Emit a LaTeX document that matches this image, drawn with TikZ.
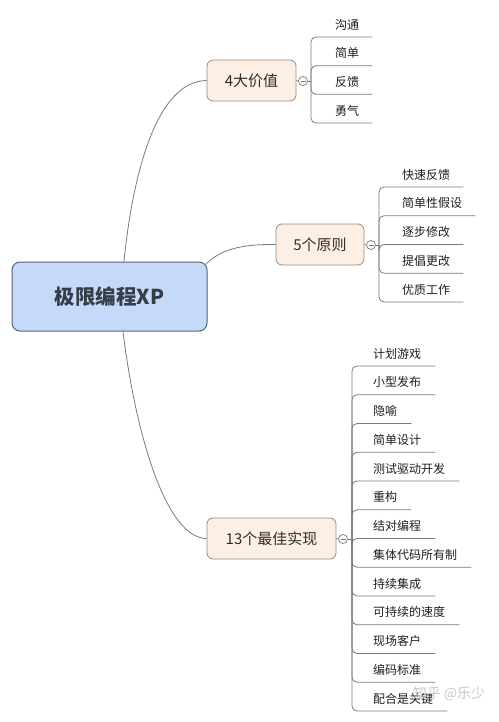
\documentclass[tikz,border=0pt]{standalone}
\usepackage{fontspec}
\newfontfamily\cjk{Noto Sans CJK SC}
\definecolor{rootfill}{RGB}{197,217,249}
\definecolor{rootborder}{RGB}{85,99,125}
\definecolor{roottext}{RGB}{55,61,72}
\definecolor{topicfill}{RGB}{253,239,228}
\definecolor{topicborder}{RGB}{150,140,132}
\definecolor{topictext}{RGB}{45,45,45}
\definecolor{linecol}{RGB}{122,122,122}
\definecolor{leaftext}{RGB}{30,30,30}
\definecolor{wmcol}{RGB}{200,200,200}
\tikzset{
  rootbox/.style={draw=rootborder, fill=rootfill, rounded corners=8pt, line width=1pt,
    minimum width=195pt, minimum height=69pt, inner sep=0pt,
    font=\cjk\bfseries\fontsize{20.5}{24}\selectfont, text=roottext},
  topicbox/.style={draw=topicborder, fill=topicfill, rounded corners=6pt, line width=0.8pt,
    inner sep=0pt, minimum height=41pt, font=\cjk\fontsize{15}{18}\selectfont, text=topictext},
  leaf/.style={anchor=west, inner sep=0pt, font=\cjk\fontsize{12}{14}\selectfont, text=leaftext},
  branch/.style={draw=linecol, line width=0.8pt},
  spine/.style={draw=linecol, line width=0.8pt, rounded corners=5pt},
  knob/.style={circle, draw=linecol, fill=white, minimum size=9pt, inner sep=0pt, line width=0.7pt},
  watermark/.style={inner sep=0pt, font=\cjk\fontsize{14}{16}\selectfont, text=wmcol}
}
\begin{document}
\begin{tikzpicture}[x=1pt,y=-1pt]
\useasboundingbox (0,0) rectangle (498,722);
% root and main topics
\node[rootbox] (root) at (109.5,296.5) {极限编程XP};
\node[topicbox, minimum width=89pt] (t1) at (251.5,80.5) {4大价值};
\node[topicbox, minimum width=88pt] (t2) at (320,244.5) {5个原则};
\node[topicbox, minimum width=129pt] (t3) at (271.5,538.5) {13个最佳实现};
% curved connectors
\draw[branch] ([xshift=14.5pt]root.north) .. controls (132,180) and (155,81) .. (t1.west);
\draw[branch] ([xshift=-2pt,yshift=-3pt]root.north east) .. controls (220,250) and (240,244) .. (t2.west);
\draw[branch] ([xshift=13.5pt]root.south) .. controls (135,430) and (165,538) .. (t3.west);
% knobs
\node[knob] (k1) at (303,81) {};
\node[knob] (k2) at (371,245) {};
\node[knob] (k3) at (343,539) {};
\foreach \k in {k1,k2,k3} {
  \draw[linecol, line width=0.7pt] ([xshift=-2.5pt]\k.center) -- ([xshift=2.5pt]\k.center);
}
\draw[branch] (t1.east) -- (k1.west);
\draw[branch] (t2.east) -- (k2.west);
\draw[branch] (t3.east) -- (k3.west);
\coordinate (j1) at (311,81);
\coordinate (j2) at (379,245);
\coordinate (j3) at (352,539);
\draw[branch] (k1.east) -- (j1);
\draw[branch] (k2.east) -- (j2);
\draw[branch] (k3.east) -- (j3);
% group 1
\foreach \t [count=\i from 0] in {沟通,简单,反馈,勇气} {
  \pgfmathsetmacro\yy{37+28.67*\i}
  \node[leaf] (a\i) at (335,\yy-12.5) {\t};
  \draw[spine] (j1) -- (311,\yy) -- ([shift={(13,12.5)}]a\i.east);
}
% group 2
\foreach \t [count=\i from 0] in {快速反馈,简单性假设,逐步修改,提倡更改,优质工作} {
  \pgfmathsetmacro\yy{187+28.75*\i}
  \node[leaf] (b\i) at (402,\yy-12.5) {\t};
  \draw[spine] (j2) -- (379,\yy) -- ([shift={(13,12.5)}]b\i.east);
}
% group 3
\foreach \t [count=\i from 0] in {计划游戏,小型发布,隐喻,简单设计,测试驱动开发,重构,结对编程,集体代码所有制,持续集成,可持续的速度,现场客户,编码标准,配合是关键} {
  \pgfmathsetmacro\yy{366+28.75*\i}
  \node[leaf] (c\i) at (373,\yy-12.5) {\t};
  \draw[spine] (j3) -- (352,\yy) -- ([shift={(14,12.5)}]c\i.east);
}
% watermark
\node[watermark] (wm) at (449,694) {知乎 @乐少};
\end{tikzpicture}
\end{document}
